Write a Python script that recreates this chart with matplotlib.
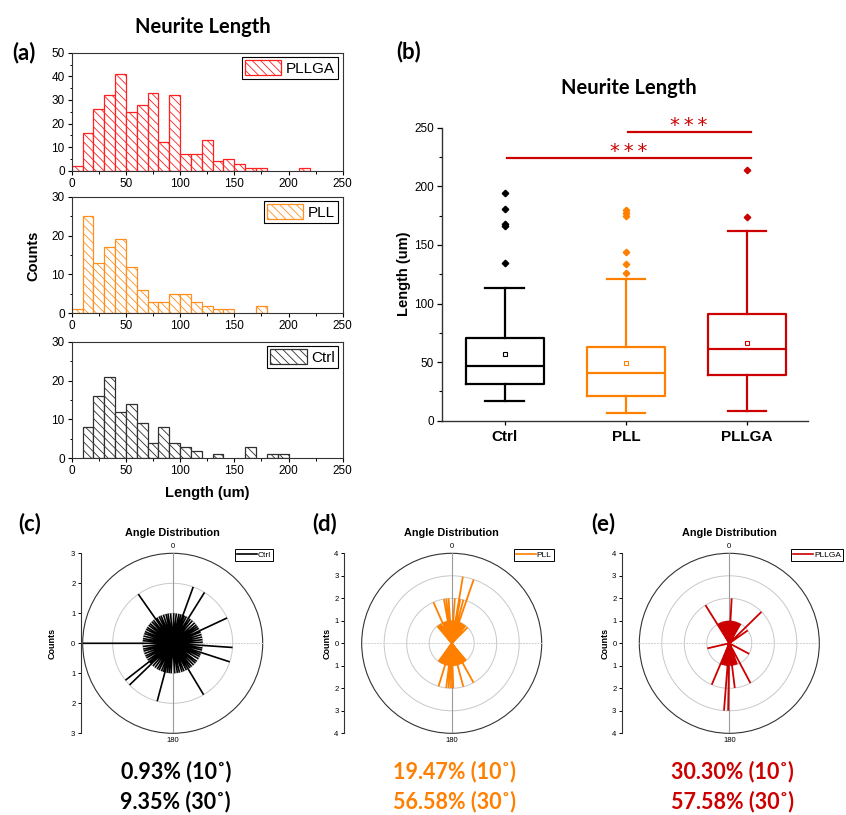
import numpy as np
import matplotlib.pyplot as plt
from matplotlib.lines import Line2D
from matplotlib.patches import Circle
from matplotlib.ticker import MultipleLocator, FixedLocator

plt.rcParams['font.family'] = ['Liberation Sans', 'DejaVu Sans']
plt.rcParams['hatch.linewidth'] = 0.6

# ---- data ----
# histogram bins (left edges, width 10 um)
bin_left = np.arange(0, 250, 10)
pllga_counts = [2, 16, 26, 32, 41, 25, 28, 33, 12, 32, 7, 7, 13, 4, 5, 3, 1, 1, 0, 0, 0, 1, 0, 0, 0]
pll_counts = [1, 25, 13, 17, 19, 12, 6, 3, 3, 5, 5, 3, 2, 1, 1, 0, 0, 2, 0, 0, 0, 0, 0, 0, 0]
ctrl_counts = [0, 8, 16, 21, 12, 14, 9, 4, 8, 4, 3, 2, 0, 1, 0, 0, 3, 0, 1, 1, 0, 0, 0, 0, 0]

# box plot summary
groups = ['Ctrl', 'PLL', 'PLLGA']
box_whislo = [17.1, 6.5, 8.0]
box_q1 = [31.3, 21.0, 38.7]
box_med = [46.4, 41.0, 60.9]
box_q3 = [70.8, 62.9, 90.7]
box_whishi = [113.5, 120.9, 161.5]
box_mean = [56.6, 49.5, 66.0]
box_fliers = [[194.5, 181.0, 167.5, 166.5, 134.8],
              [179.5, 177.0, 175.0, 143.6, 133.7, 126.3],
              [214.0, 174.0]]

# angle distributions (deg, clockwise from 0 at top) and counts
ctrl_ang = [270, 94, 108, 65, 32, 20, 325, 149, 195, 226, 232,
            2, 7, 12, 16, 23, 27, 36, 41, 47, 52, 56, 60, 68, 73, 78, 83, 88, 99,
            103, 112, 116, 121, 127, 131, 136, 141, 145, 153, 158, 162, 167, 171,
            176, 183, 187, 191, 198, 202, 207, 211, 216, 221, 229, 236, 241, 245,
            250, 255, 259, 264, 275, 279, 284, 289, 293, 298, 302, 307, 311, 316,
            320, 328, 333, 337, 342, 347, 351, 356]
ctrl_cnt = [3, 2, 2, 2, 2, 2, 2, 2, 2, 2, 2] + [1] * 68

pll_ang = [9.5, 19, 336, 350, 353, 356, 4, 11, 15, 197, 187, 178, 181, 165, 151, 184,
           320, 325, 330, 340, 343, 346, 359, 1, 7, 13, 17, 22, 25, 28, 33, 38, 45,
           140, 145, 148, 155, 158, 162, 168, 171, 175, 190, 193, 200, 204, 208, 212, 216]
pll_cnt = [3, 3, 2, 2, 2, 2, 2, 2, 2, 2, 2, 2, 2, 2, 2, 2] + [1] * 33

pllga_ang = [3, 45.6, 328, 203, 152, 173, 184.5, 181, 257, 118, 55,
             332, 336, 340, 344, 348, 352, 356, 0, 6, 10, 14, 18, 22, 26, 30,
             160, 165, 170, 176, 188, 192, 197, 200]
pllga_cnt = [2, 2, 2, 2, 2, 2, 3, 3, 1, 1, 1] + [1] * 23

pct_10 = ['0.93% (10˚)', '19.47% (10˚)', '30.30% (10˚)']
pct_30 = ['9.35% (30˚)', '56.58% (30˚)', '57.58% (30˚)']

BLACK = '#000000'
ORANGE = '#FF8000'
RED = '#CC0000'
BOLD = ['Lato', 'DejaVu Sans']

W, H = 846, 815
fig = plt.figure(figsize=(W / 100, H / 100), dpi=100)


def rect(l, t, r, b):
    return [l / W, 1 - b / H, (r - l) / W, (b - t) / H]


def ftext(x, y, s, **kw):
    fig.text(x / W, 1 - y / H, s, **kw)


# ---- (a) histograms ----
hists = [(pllga_counts, 'PLLGA', '#FF2020', 50, 52.7, 170.7),
         (pll_counts, 'PLL', '#FF9020', 30, 196.7, 313.3),
         (ctrl_counts, 'Ctrl', '#303030', 30, 341.7, 458.3)]
for counts, lab, col, ymax, top, bot in hists:
    ax = fig.add_axes(rect(71.7, top, 342.7, bot))
    counts = np.array(counts)
    m = counts > 0
    ax.bar(bin_left[m], counts[m], width=10, align='edge', facecolor='white',
           edgecolor=col, hatch='\\\\\\\\', linewidth=0.9, label=lab)
    ax.set_xlim(0, 250)
    ax.set_ylim(0, ymax)
    ax.xaxis.set_major_locator(MultipleLocator(50))
    ax.xaxis.set_minor_locator(MultipleLocator(25))
    ax.yaxis.set_major_locator(MultipleLocator(10))
    ax.yaxis.set_minor_locator(MultipleLocator(5))
    ax.tick_params(which='major', direction='out', length=3, width=0.8, labelsize=8.5, pad=2)
    ax.tick_params(which='minor', direction='out', length=1.8, width=0.7)
    for s in ax.spines.values():
        s.set_linewidth(0.8)
        s.set_color('#333333')
    leg = ax.legend(loc='upper right', fontsize=11, fancybox=False, edgecolor='black',
                    handlelength=2.4, handleheight=1.1, handletextpad=0.3,
                    borderpad=0.2, borderaxespad=0.3, framealpha=1)
    leg.get_frame().set_linewidth(0.8)

ftext(33, 256, 'Counts', rotation=90, ha='center', va='center', fontsize=10.5, fontweight='bold')
ftext(207, 493, 'Length (um)', ha='center', va='center', fontsize=10.5, fontweight='bold')
ftext(203, 33, 'Neurite Length', ha='center', va='baseline', fontsize=14.5, fontweight='bold', family=BOLD)
ftext(24, 53, '(a)', ha='center', va='center', fontsize=16, fontweight='bold', family=BOLD)

# ---- (b) box plot ----
bx = fig.add_axes(rect(441.7, 127.7, 807.7, 420.7))
stats = []
for i, g in enumerate(groups):
    stats.append(dict(label=g, whislo=box_whislo[i], q1=box_q1[i], med=box_med[i],
                      q3=box_q3[i], whishi=box_whishi[i], mean=box_mean[i],
                      fliers=box_fliers[i]))
res = bx.bxp(stats, positions=[1, 2, 3], widths=0.64, capwidths=0.32, showmeans=True)
colors = [BLACK, ORANGE, RED]
for i, c in enumerate(colors):
    res['boxes'][i].set(color=c, linewidth=1.6)
    res['medians'][i].set(color=c, linewidth=1.6)
    for k in (2 * i, 2 * i + 1):
        res['whiskers'][k].set(color=c, linewidth=1.6)
        res['caps'][k].set(color=c, linewidth=1.6)
    res['fliers'][i].set(marker='D', markersize=3.3, markerfacecolor=c, markeredgecolor=c)
    res['means'][i].set(marker='s', markersize=3, markerfacecolor='white',
                        markeredgecolor=c, markeredgewidth=0.8)
bx.set_xlim(0.48, 3.5)
bx.set_ylim(0, 250)
bx.spines['top'].set_visible(False)
bx.spines['right'].set_visible(False)
for s in ('left', 'bottom'):
    bx.spines[s].set_linewidth(1.0)
    bx.spines[s].set_color('#333333')
bx.yaxis.set_major_locator(MultipleLocator(50))
bx.yaxis.set_minor_locator(MultipleLocator(25))
bx.set_xticks([1, 2, 3])
bx.set_xticklabels(groups, fontsize=11, fontweight='bold')
bx.tick_params(axis='y', which='major', direction='out', length=3.5, width=0.9, labelsize=8.5, pad=2)
bx.tick_params(axis='y', which='minor', direction='out', length=2, width=0.8)
bx.tick_params(axis='x', direction='out', length=3, width=0.9, pad=4)

# significance bars
stars = '*\u2009*\u2009*'
bx.plot([1.02, 3.03], [224.4, 224.4], color=RED, lw=1.6, clip_on=False)
bx.plot([2.02, 3.03], [246.6, 246.6], color=RED, lw=1.6, clip_on=False)
bx.text(2.02, 225.0, stars, ha='center', va='baseline', color=RED, fontsize=14,
        family='DejaVu Sans', clip_on=False)
bx.text(2.52, 247.2, stars, ha='center', va='baseline', color=RED, fontsize=14,
        family='DejaVu Sans', clip_on=False)

ftext(404, 274, 'Length (um)', rotation=90, ha='center', va='center', fontsize=10.5, fontweight='bold')
ftext(629, 94, 'Neurite Length', ha='center', va='baseline', fontsize=14.5, fontweight='bold', family=BOLD)
ftext(409, 52, '(b)', ha='center', va='center', fontsize=16, fontweight='bold', family=BOLD)

# ---- (c)-(e) angle distributions ----
polars = [('Ctrl', ctrl_ang, ctrl_cnt, BLACK, 3, 172.7, 1.3, 1.2, 51.7, '(c)', 30),
          ('PLL', pll_ang, pll_cnt, ORANGE, 4, 451.7, 12.7, 1.3, 326.7, '(d)', 325),
          ('PLLGA', pllga_ang, pllga_cnt, RED, 4, 729.3, 12.5, 1.3, 605, '(e)', 603)]
cy, R = 643.3, 90
for i, (lab, ang, cnt, col, rmax, cx, off, lw, clab_x, plab, plab_x) in enumerate(polars):
    ax = fig.add_axes(rect(cx - R, cy - R, cx + R, cy + R))
    ax.set_xlim(-rmax, rmax)
    ax.set_ylim(-rmax, rmax)
    for r in range(1, rmax):
        ax.add_patch(Circle((0, 0), r, fill=False, ec='#C8C8C8', lw=0.7))
    ax.add_patch(Circle((0, 0), rmax, fill=False, ec='#333333', lw=0.8, clip_on=False))
    ax.plot([0, 0], [-rmax, rmax], color='#9A9A9A', lw=0.8)
    ax.plot([-rmax, rmax], [0, 0], color='#CFCFCF', lw=0.7, ls=(0, (2, 1)))
    a = np.radians(np.array(ang, dtype=float))
    c = np.array(cnt, dtype=float)
    xs = np.column_stack([np.zeros_like(a), c * np.sin(a), np.full_like(a, np.nan)]).ravel()
    ys = np.column_stack([np.zeros_like(a), c * np.cos(a), np.full_like(a, np.nan)]).ravel()
    ax.plot(xs, ys, color=col, lw=lw, solid_capstyle='butt')
    for s in ('top', 'right', 'bottom'):
        ax.spines[s].set_visible(False)
    ax.spines['left'].set_position(('outward', off))
    ax.spines['left'].set_linewidth(0.8)
    ax.spines['left'].set_color('#333333')
    ax.set_xticks([])
    ticks = list(range(-rmax, rmax + 1))
    ax.yaxis.set_major_locator(FixedLocator(ticks))
    ax.set_yticklabels([str(abs(t)) for t in ticks])
    ax.tick_params(axis='y', direction='out', length=2.5, width=0.7, labelsize=5.5, pad=1.5)
    h = [Line2D([], [], color=col, lw=1.2)]
    leg = ax.legend(h, [lab], loc='upper left', bbox_to_anchor=(152 / 180, 1.024),
                    fontsize=6, fancybox=False, edgecolor='black', framealpha=1,
                    handlelength=2.4, handletextpad=0.1, borderpad=0.25, borderaxespad=0)
    leg.get_frame().set_linewidth(0.7)
    ftext(cx, 533, 'Angle Distribution', ha='center', va='center', fontsize=7.8, fontweight='bold')
    ftext(cx, 546, '0', ha='center', va='center', fontsize=5.5)
    ftext(cx, 741, '180', ha='center', va='center', fontsize=5.5)
    ftext(clab_x, 643, 'Counts', rotation=90, ha='center', va='center', fontsize=6.5, fontweight='bold')
    ftext(plab_x, 524, plab, ha='center', va='center', fontsize=16, fontweight='bold', family=BOLD)
    ftext(cx + 3, 772, pct_10[i], ha='center', va='center', fontsize=15.5, fontweight='bold',
          color=col, family=BOLD)
    ftext(cx + 3, 802, pct_30[i], ha='center', va='center', fontsize=15.5, fontweight='bold',
          color=col, family=BOLD)

fig.savefig('out.png', dpi=100)
